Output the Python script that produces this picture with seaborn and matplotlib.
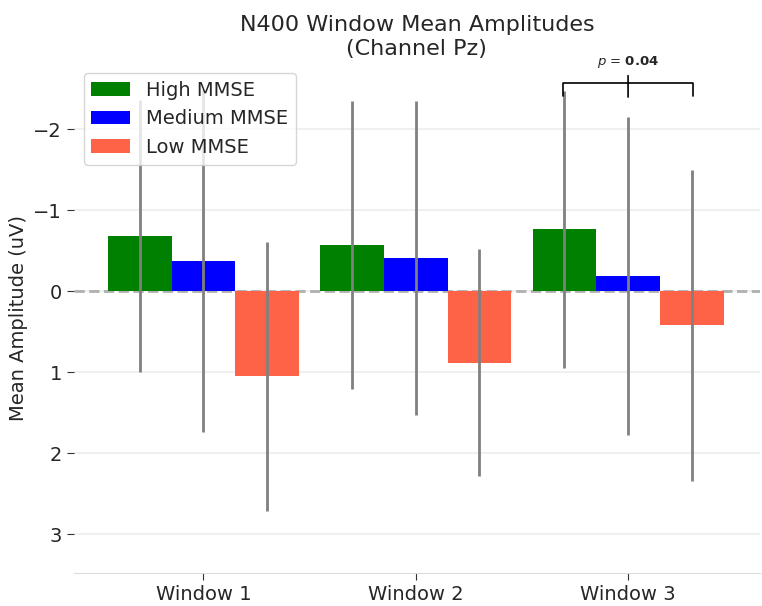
import pandas as pd
import matplotlib
matplotlib.use('Agg')
import matplotlib.pyplot as plt
import seaborn as sns

windows = ['Window 1', 'Window 2', 'Window 3']
groups = ['High MMSE', 'Medium MMSE', 'Low MMSE']
colors = ['#008000', '#0000FF', '#FF6347']
# mean amplitude per group, one value per window
high_mean = [-0.68, -0.57, -0.77]
medium_mean = [-0.38, -0.41, -0.19]
low_mean = [1.05, 0.88, 0.42]
# standard deviations (error bar half lengths)
high_sd = [1.68, 1.78, 1.71]
medium_sd = [2.11, 1.94, 1.96]
low_sd = [1.66, 1.40, 1.92]
p_text = r'$\it{p}$ = $\bf{0.04}$'

rows = []
for g, means, sds in zip(groups, [high_mean, medium_mean, low_mean], [high_sd, medium_sd, low_sd]):
    for w, m, s in zip(windows, means, sds):
        rows.append({'window': w, 'group': g, 'mean': m, 'sd': s})
df = pd.DataFrame(rows)

sns.set_style('white')
fig = plt.figure(figsize=(7.62, 6.06), dpi=100)
ax = fig.add_axes([0.097, 0.054, 0.900, 0.842])

sns.barplot(data=df, x='window', y='mean', hue='group', hue_order=groups,
            palette=colors, width=0.9, errorbar=None, saturation=1, linewidth=0, ax=ax, zorder=2)

# error bars placed on the bar centres
for patch_group, g in zip(ax.containers, groups):
    sub = df[df['group'] == g]
    xs = [p.get_x() + p.get_width() / 2 for p in patch_group]
    ax.errorbar(xs, sub['mean'], yerr=sub['sd'], fmt='none', ecolor='gray', elinewidth=2, capsize=0, zorder=3)

ax.axhline(0, color='#b0b0b0', ls='--', lw=2, zorder=1)
ax.set_ylim(3.48, -2.82)
ax.set_xlim(-0.61, 2.62)
ax.set_yticks([-2, -1, 0, 1, 2, 3])
ax.yaxis.grid(True, color='#eeeeee', lw=1.2, zorder=0)
ax.set_axisbelow(True)
for s in ['left', 'right', 'top']:
    ax.spines[s].set_visible(False)
ax.spines['bottom'].set_color('#dddddd')
ax.tick_params(axis='both', labelsize=14, length=5, color='#333333', left=True, bottom=True)
ax.set_xlabel('')
ax.set_ylabel('Mean Amplitude (uV)', fontsize=14)
ax.set_title('N400 Window Mean Amplitudes\n(Channel Pz)', fontsize=16)

ax.legend(loc='upper left', fontsize=14, frameon=True,
          handlelength=2.0, borderpad=0.4, labelspacing=0.5)

# significance bracket over window 3
ax.annotate(p_text, xy=(2, -2.57), xytext=(2, -2.80), ha='center', va='baseline', fontsize=9.5,
            annotation_clip=False,
            arrowprops=dict(arrowstyle='-[, widthB=4.9, lengthB=0.95', lw=1.2, color='black',
                            shrinkB=0))
ax.annotate('', xy=(2, -2.40), xytext=(2, -2.57),
            arrowprops=dict(arrowstyle='-', lw=1.2, color='black', shrinkA=0, shrinkB=0))

fig.savefig('out.png', dpi=100)
